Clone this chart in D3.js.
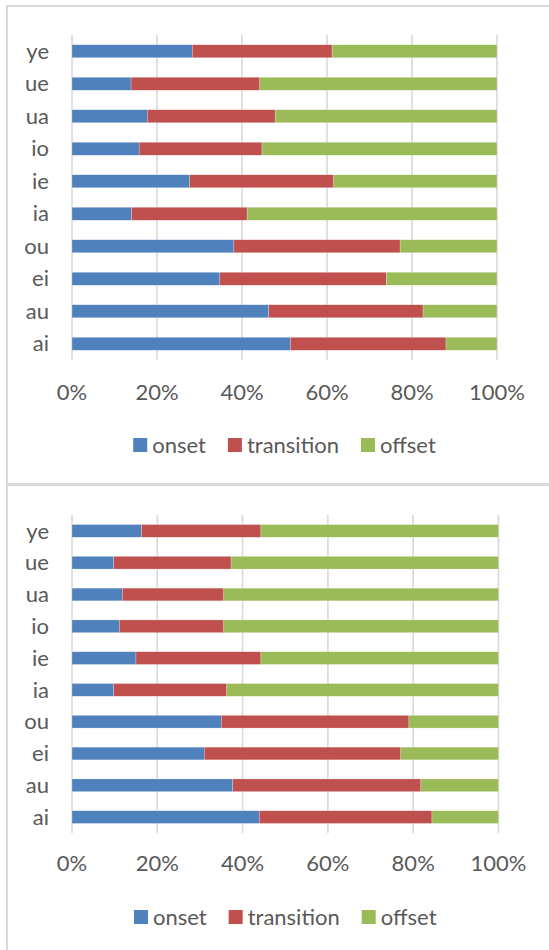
<!DOCTYPE html>
<html>
<head>
<meta charset="utf-8">
<script src="https://cdn.jsdelivr.net/npm/d3@7"></script>
<style>
  html, body { margin: 0; padding: 0; background: #fff; }
  svg { display: block; }
</style>
</head>
<body>
<div id="chart"></div>
<script>
// categories, listed top to bottom as shown
const categories = ["ye", "ue", "ua", "io", "ie", "ia", "ou", "ei", "au", "ai"];
const seriesNames = ["onset", "transition", "offset"];
const tickLabels = [0, 20, 40, 60, 80, 100];

// upper chart (percent of each diphthong)
const topOnset      = [28.3, 13.9, 17.7, 15.8, 27.7, 14.0, 38.1, 34.8, 46.3, 51.4];
const topTransition = [32.9, 30.3, 30.1, 28.9, 33.9, 27.2, 39.1, 39.2, 36.3, 36.6];
const topOffset     = [38.8, 55.8, 52.2, 55.3, 38.4, 58.8, 22.8, 26.0, 17.4, 12.0];

// lower chart
const botOnset      = [16.3,  9.8, 11.8, 11.1, 15.0,  9.8, 35.0, 31.0, 37.7, 43.9];
const botTransition = [28.0, 27.5, 23.8, 24.5, 29.3, 26.5, 44.0, 46.1, 44.1, 40.5];
const botOffset     = [55.7, 62.7, 64.4, 64.4, 55.7, 63.7, 21.0, 22.9, 18.2, 15.6];

const colors = ["#4F81BD", "#C0504D", "#9BBB59"];
const textColor = "#595959";
const font = "Lato, 'Open Sans', sans-serif";
const fontSize = 22;

const W = 549, H = 950;
const svg = d3.select("#chart").append("svg")
    .attr("width", W)
    .attr("height", H);

function drawChart(cfg) {
    const rows = categories.map((c, i) => ({
        cat: c,
        onset: cfg.onset[i],
        transition: cfg.transition[i],
        offset: cfg.offset[i]
    }));

    // chart frame
    svg.append("rect")
        .attr("x", cfg.frame.x)
        .attr("y", cfg.frame.y)
        .attr("width", cfg.frame.w)
        .attr("height", cfg.frame.h)
        .attr("fill", "none")
        .attr("stroke", "#D9D9D9")
        .attr("stroke-width", 2);

    const x = d3.scaleLinear().domain([0, 100]).range([cfg.left, cfg.right]);
    const y = d3.scaleBand().domain(categories)
        .range([cfg.top, cfg.bottom])
        .paddingInner(0.6)
        .paddingOuter(0.3);

    const g = svg.append("g");

    // vertical gridlines
    g.selectAll("line.grid")
        .data(tickLabels)
        .enter()
        .append("line")
        .attr("x1", d => x(d))
        .attr("x2", d => x(d))
        .attr("y1", cfg.top)
        .attr("y2", cfg.bottom)
        .attr("stroke", "#D9D9D9")
        .attr("stroke-width", 1.6);

    // stacked bars
    const stack = d3.stack().keys(seriesNames)(rows);
    g.selectAll("g.series")
        .data(stack)
        .enter()
        .append("g")
        .attr("fill", (d, i) => colors[i])
        .selectAll("rect")
        .data(d => d)
        .enter()
        .append("rect")
        .attr("x", d => x(d[0]))
        .attr("y", d => y(d.data.cat))
        .attr("width", d => x(d[1]) - x(d[0]))
        .attr("height", y.bandwidth())
        .attr("stroke", "#ffffff")
        .attr("stroke-width", 0.4)
        .attr("stroke-opacity", 0.6);

    // category labels
    g.selectAll("text.cat")
        .data(categories)
        .enter()
        .append("text")
        .attr("x", cfg.left - 23)
        .attr("y", d => y(d) + y.bandwidth() / 2)
        .attr("dy", "0.35em")
        .attr("text-anchor", "end")
        .attr("font-family", font)
        .attr("font-size", fontSize)
        .attr("fill", textColor)
        .text(d => d);

    // x tick labels
    g.selectAll("text.tick")
        .data(tickLabels)
        .enter()
        .append("text")
        .attr("x", d => x(d))
        .attr("y", cfg.tickY)
        .attr("dy", "0.35em")
        .attr("text-anchor", "middle")
        .attr("font-family", font)
        .attr("font-size", fontSize)
        .attr("fill", textColor)
        .text(d => d + "%");

    // legend, centred under the plot
    const legend = g.append("g");
    let cx = 0;
    seriesNames.forEach((name, i) => {
        legend.append("rect")
            .attr("x", cx)
            .attr("y", cfg.legendY - 7)
            .attr("width", 14)
            .attr("height", 14)
            .attr("fill", colors[i]);
        const t = legend.append("text")
            .attr("x", cx + 19)
            .attr("y", cfg.legendY)
            .attr("dy", "0.35em")
            .attr("font-family", font)
            .attr("font-size", fontSize)
            .attr("fill", textColor)
            .text(name);
        cx += 19 + t.node().getComputedTextLength() + 22;
    });
    const legendW = cx - 22;
    legend.attr("transform", `translate(${(cfg.left + cfg.right) / 2 - legendW / 2}, 0)`);
}

drawChart({
    onset: topOnset, transition: topTransition, offset: topOffset,
    frame: { x: 7, y: 6, w: 560, h: 478 },
    left: 72, right: 497, top: 35, bottom: 360,
    tickY: 392, legendY: 445
});

drawChart({
    onset: botOnset, transition: botTransition, offset: botOffset,
    frame: { x: 7, y: 485, w: 560, h: 480 },
    left: 72, right: 498.5, top: 515, bottom: 833,
    tickY: 863, legendY: 917
});
</script>
</body>
</html>
